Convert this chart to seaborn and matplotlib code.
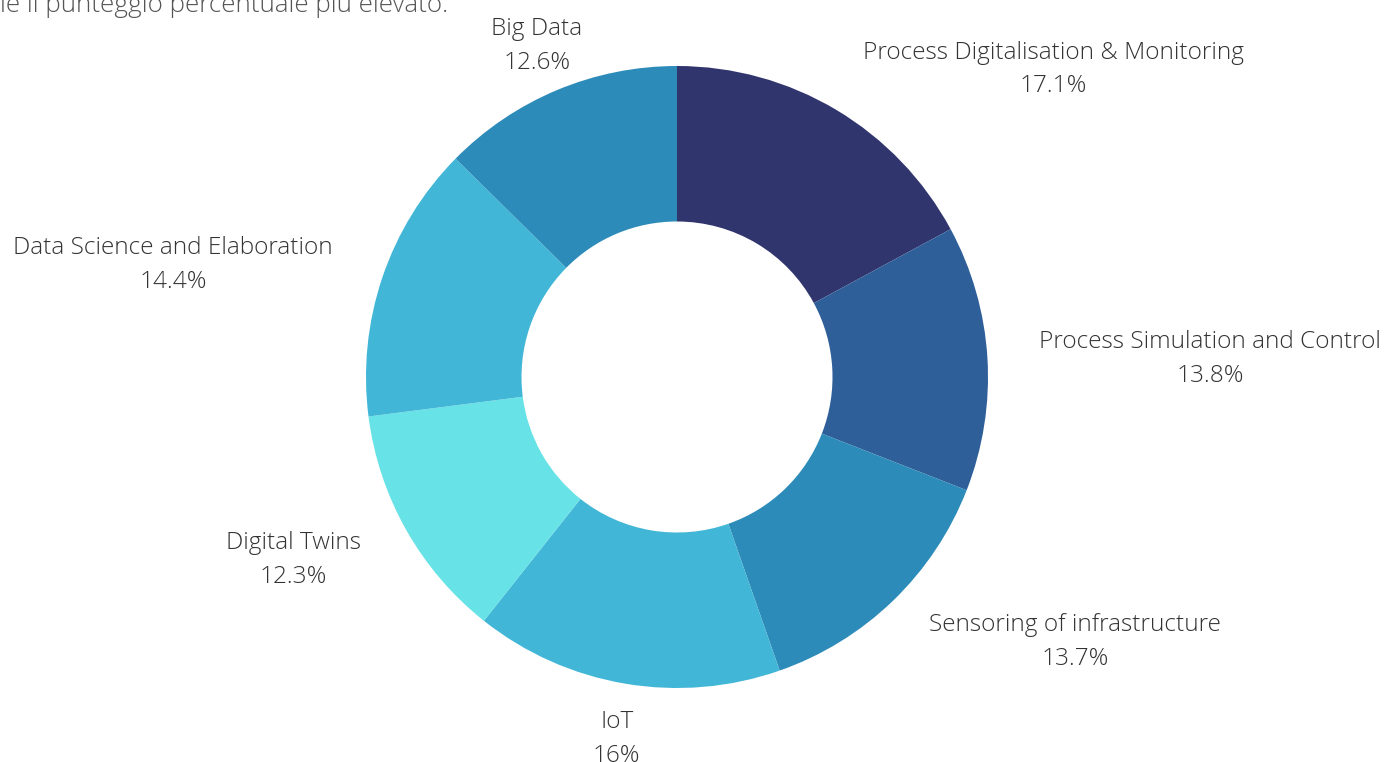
import numpy as np
import matplotlib
matplotlib.use("Agg")
import matplotlib.pyplot as plt
import seaborn as sns

# ==============================
# Data
# ==============================
categories = [
    "Process Digitalisation & Monitoring",
    "Process Simulation and Control",
    "Sensoring of infrastructure",
    "IoT",
    "Digital Twins",
    "Data Science and Elaboration",
    "Big Data",
]
shares = [17.1, 13.8, 13.7, 16, 12.3, 14.4, 12.6]
share_labels = ["17.1%", "13.8%", "13.7%", "16%", "12.3%", "14.4%", "12.6%"]
colors = ["#31356E", "#2E5F99", "#2D8BB9", "#41B6D6", "#67E2E6", "#41B6D6", "#2D8BB9"]
title_text = "le il punteggio percentuale più elevato."

sns.set_theme(style="white")
plt.rcParams["font.family"] = ["Open Sans", "DejaVu Sans"]

fig = plt.figure(figsize=(13.88, 7.62), dpi=100)
# axes sized so that radius 1 ~ 311 px, centre at (677, 377)
ax = fig.add_axes([(677 - 400) / 1388, (762 - 377 - 400) / 762, 800 / 1388, 800 / 762])

wedges, _ = ax.pie(
    shares,
    colors=colors,
    startangle=90,
    counterclock=False,
    radius=1.0,
    wedgeprops=dict(width=0.5, linewidth=0),
)
# pie resets the limits, so set them afterwards
ax.set_xlim(-400 / 311, 400 / 311)
ax.set_ylim(-400 / 311, 400 / 311)
ax.set_aspect("equal")
ax.axis("off")

# labels outside the ring, two lines each
for w, cat, lab in zip(wedges, categories, share_labels):
    ang = np.deg2rad((w.theta1 + w.theta2) / 2)
    x, y = 1.167 * np.cos(ang), 1.167 * np.sin(ang)
    c = np.cos(ang)
    if abs(c) < 0.45:
        ha = "center"
    elif c > 0:
        ha = "left"
    else:
        ha = "right"
    ax.annotate(f"{cat}\n{lab}", xy=(x, y), xytext=(0, -3), textcoords="offset points",
                ha=ha, va="center", multialignment="center", fontsize=17.6,
                fontweight="light", color="#333333", linespacing=1.55)

fig.text(0, 1 - 12 / 762, title_text, ha="left", va="baseline",
         fontsize=18.7, fontweight="light", color="#555555")

fig.savefig("out.png", dpi=100, facecolor="white")
